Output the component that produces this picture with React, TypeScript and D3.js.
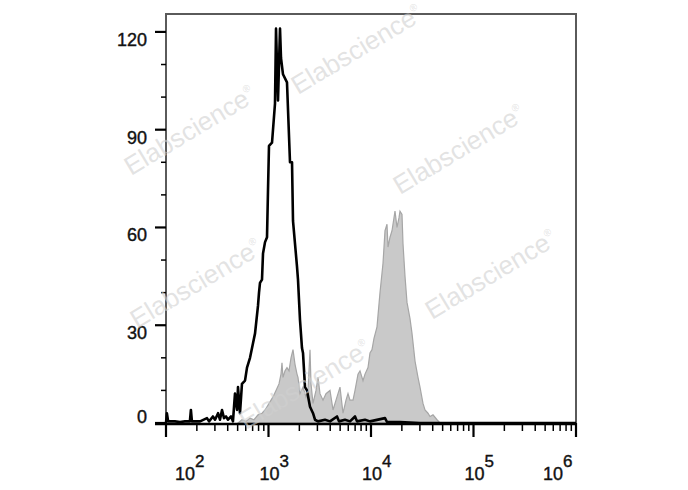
import React from "react";
import * as d3 from "d3";

// Control (unstained) histogram: fluorescence intensity vs count
const controlIntensity = [
  100, 102, 105, 122, 137, 153, 171, 175, 179, 215, 251, 263, 287, 301, 322, 336, 352, 368, 385, 403,
  431, 450, 471, 493, 504, 527, 551, 590, 617, 660, 706, 739, 790, 808, 826, 864, 884, 925, 967, 989,
  1011, 1082, 1157, 1184, 1210, 1238, 1266, 1295, 1324, 1385, 1515, 1621, 1696, 1734, 1897, 1940, 2029,
  2122, 2171, 2270, 2374, 2541, 2718, 2842, 3041, 3557, 3981, 4659, 4872, 5574, 6238, 6982, 7302, 8740,
  9777, 13698, 14326, 19185, 30061, 1000000,
];
const controlCount = [
  0, 3, 0.5, 0.5, 0.3, 0.5, 0.5, 4, 0.5, 0.5, 1.5, 0.5, 2, 1, 3, 1, 4, 1.5, 2, 1,
  2, 0.5, 9, 4, 11, 3, 12, 13, 17, 20, 24.5, 27.5, 36, 40, 43, 44, 52, 55.5, 57, 71.5,
  85, 86, 98, 121, 110, 99, 110, 121, 112, 107, 104.5, 80, 80, 62, 48, 44, 31.6,
  23, 21.5, 11, 10, 5, 3, 1, 0.5, 1, 0.5, 2, 0.5, 1, 0.5, 2, 0.5, 1,
  0.5, 1.5, 0.3, 0.3, 0, 0,
];

// Stained sample histogram
const stainedIntensity = [
  504, 551, 603, 660, 722, 790, 864, 925, 967, 1034, 1106, 1184, 1266, 1324, 1354, 1385, 1449, 1515, 1585,
  1658, 1734, 1814, 1897, 1940, 2029, 2171, 2322, 2429, 2541, 2598, 2718, 2907, 3041, 3180, 3402, 3639,
  3981, 4260, 4556, 4984, 5332, 5704, 5965, 6238, 6675, 6982, 7468, 7810, 8356, 8740, 9349, 9777, 10228,
  10698, 11443, 12241, 13094, 13698, 14326, 14653, 15325, 16030, 17146, 17936, 18762, 19185, 20065, 20522,
  21467, 22453, 24018, 25119, 26878, 28740, 30061, 32160, 33634, 35982, 37630, 40264, 44051, 47131,
];
const stainedCount = [
  0, 1, 0.5, 1.5, 1, 2.5, 3, 4, 5, 6.5, 8, 10, 12, 15, 18.5, 14, 16, 17, 16,
  20, 22.5, 18, 15, 14, 9, 11, 8, 10, 22.5, 12, 6, 10, 14, 9, 7, 9,
  10, 4, 7, 11, 3, 7, 9, 7, 7, 10, 15, 16, 13, 15, 17, 21.5, 22.5,
  26, 29.5, 40, 49, 59, 61, 54, 57, 59, 65, 60, 63, 65, 64, 55,
  45, 37, 32, 27.5, 19, 14, 11, 6, 4, 3, 2, 2.5, 1, 0,
];

const xDecades = [2, 3, 4, 5, 6];
const yMajorTicks = [0, 30, 60, 90, 120];
const yMinorTicks = [10, 20, 40, 50, 70, 80, 100, 110];

const watermarkText = "Elabscience";
const watermarks: [number, number][] = [
  [131, 176],
  [298, 95],
  [400, 195],
  [432, 320],
  [137, 329],
  [246, 430],
];

const W = 688;
const H = 490;
const L = 166;
const R = 576;
const T = 14;
const B = 423;

export default function App() {
  const x = d3.scaleLog().domain([100, 1e6]).range([L, R]);
  const y = d3.scaleLinear().domain([0, 125.5]).range([B, T]);

  const control = controlIntensity.map((v, i) => [v, controlCount[i]] as [number, number]);
  const stained = stainedIntensity.map((v, i) => [v, stainedCount[i]] as [number, number]);

  const line = d3
    .line<[number, number]>()
    .x((d) => x(d[0]))
    .y((d) => y(d[1]));
  const area = d3
    .area<[number, number]>()
    .x((d) => x(d[0]))
    .y0(y(0))
    .y1((d) => y(d[1]));

  const minorX: number[] = [];
  for (let k = 2; k < 6; k++) for (let m = 2; m <= 9; m++) minorX.push(m * Math.pow(10, k));

  const font = "Arial, 'Liberation Sans', Helvetica, sans-serif";

  return (
    <svg
      width={W}
      height={H}
      style={{ position: "absolute", left: 0, top: 0, background: "#fff" }}
      fontFamily={font}
    >
      <rect x={0} y={0} width={W} height={H} fill="#fff" />
      {/* box */}
      <path d={`M${L},${B} V${T} H${R} V${B}`} fill="none" stroke="#5a5a5a" strokeWidth={2} />

      {/* stained histogram */}
      <path d={area(stained) || ""} fill="#c9c9c9" stroke="#a6a6a6" strokeWidth={1.2} />
      {/* control histogram */}
      <path
        d={line(control) || ""}
        fill="none"
        stroke="#000"
        strokeWidth={2.6}
        strokeLinejoin="round"
      />

      {/* x axis */}
      <line x1={L - 11} x2={R} y1={B + 1} y2={B + 1} stroke="#000" strokeWidth={2.5} />
      {minorX.map((v) => (
        <line key={"mx" + v} x1={x(v)} x2={x(v)} y1={B} y2={B + 8} stroke="#000" strokeWidth={1.5} />
      ))}
      {xDecades.map((k) => {
        const px = x(Math.pow(10, k));
        const sx = Math.min(Math.max(px - 9, L + 9), R - 33);
        return (
          <g key={"xd" + k}>
            <line x1={px} x2={px} y1={B} y2={B + 14} stroke="#000" strokeWidth={2.2} />
            <text x={sx} y={480} fontSize={18} fill="#111" stroke="#111" strokeWidth={0.4}>
              10
              <tspan fontSize={17} dy={-13}>
                {k}
              </tspan>
            </text>
          </g>
        );
      })}

      {/* y axis */}
      {yMinorTicks.map((t) => (
        <line key={"my" + t} x1={L - 5} x2={L} y1={y(t)} y2={y(t)} stroke="#000" strokeWidth={1.5} />
      ))}
      {yMajorTicks.map((t) => (
        <g key={"y" + t}>
          <line x1={L - 11} x2={L} y1={y(t)} y2={y(t)} stroke="#000" strokeWidth={2.2} />
          <text
            x={147}
            y={y(t) + (t === 0 ? 0 : 14)}
            fontSize={18}
            textAnchor="end"
            fill="#111"
            stroke="#111"
            strokeWidth={0.4}
          >
            {t}
          </text>
        </g>
      ))}

      {/* watermarks */}
      {watermarks.map(([wx, wy], i) => (
        <text
          key={"wm" + i}
          x={wx}
          y={wy}
          transform={`rotate(-31 ${wx} ${wy})`}
          fontSize={26}
          fill="#d0d0d0"
          fillOpacity={0.6}
        >
          {watermarkText}
          <tspan fontSize={10} dy={-12}>
            ®
          </tspan>
        </text>
      ))}
    </svg>
  );
}
